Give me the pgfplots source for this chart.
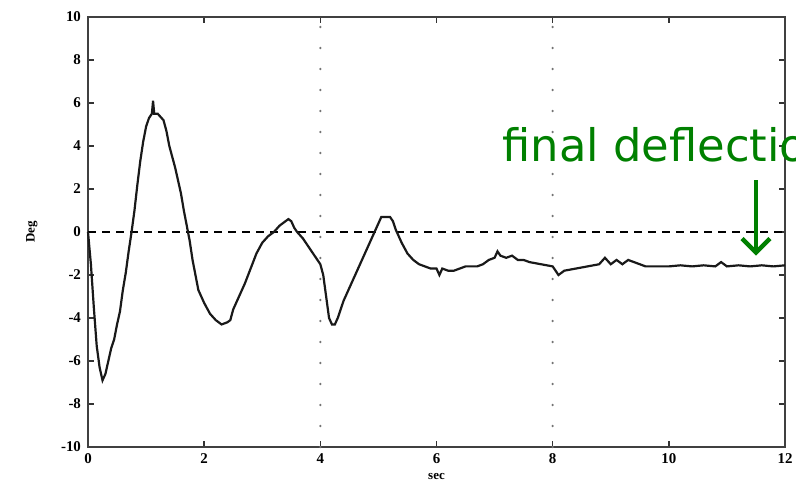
\documentclass[border=0pt]{standalone}
\usepackage{fontspec}
\setmainfont{Liberation Serif}
\newfontfamily\annfont{DejaVu Sans}
\usepackage{pgfplots}
\pgfplotsset{compat=1.18}
\usetikzlibrary{arrows.meta}
\definecolor{anngreen}{RGB}{0,128,0}

\begin{document}
\begin{tikzpicture}
\useasboundingbox (0bp,0bp) rectangle (398bp,245bp);
\begin{axis}[
  at={(44bp,21.5bp)}, anchor=south west,
  scale only axis, width=348.5bp, height=215bp,
  xmin=0, xmax=12, ymin=-10, ymax=10,
  xtick={0,2,...,12}, ytick={-10,-8,...,10},
  tick align=inside, major tick length=3bp,
  tick style={line width=0.8pt, black!80},
  axis line style={line width=1pt, black!75},
  tick label style={font=\fontsize{7.5}{8}\selectfont\bfseries},
  /pgf/number format/assume math mode=true,
  xlabel={sec}, ylabel={Deg},
  label style={font=\fontsize{6.5}{7}\selectfont\bfseries},
  xlabel style={yshift=2bp},
  ylabel style={yshift=5bp},
  clip=false,
]
\addplot[black!55, line width=1.3pt, line cap=round, dash pattern=on 0bp off 10.5bp] coordinates {(4,-10) (4,10)};
\addplot[black!55, line width=1.3pt, line cap=round, dash pattern=on 0bp off 10.5bp] coordinates {(8,-10) (8,10)};
\addplot[black, line width=0.9pt, dash pattern=on 4bp off 3bp] coordinates {(0,0) (12,0)};
\addplot[black!90, line width=1.1pt] coordinates {
(0.00,0.0) (0.05,-1.5) (0.10,-3.5) (0.15,-5.3) (0.20,-6.3) (0.25,-6.9) (0.30,-6.6)
(0.35,-6.0) (0.40,-5.4) (0.45,-5.0) (0.50,-4.3) (0.55,-3.7) (0.60,-2.7) (0.65,-1.9)
(0.70,-0.9) (0.75,0.0) (0.80,1.0) (0.85,2.2) (0.90,3.3) (0.95,4.2) (1.00,4.9)
(1.05,5.3) (1.10,5.5) (1.12,6.1) (1.14,5.5) (1.20,5.5) (1.30,5.2) (1.35,4.7)
(1.40,4.0) (1.45,3.5) (1.50,3.0) (1.55,2.4) (1.60,1.8) (1.65,1.0) (1.70,0.3)
(1.75,-0.4) (1.80,-1.3) (1.85,-2.0) (1.90,-2.7) (2.00,-3.3) (2.10,-3.8) (2.20,-4.1)
(2.30,-4.3) (2.40,-4.2) (2.45,-4.1) (2.50,-3.6) (2.60,-3.0) (2.70,-2.4) (2.80,-1.7)
(2.90,-1.0) (3.00,-0.5) (3.10,-0.2) (3.20,0.0) (3.30,0.3) (3.40,0.5) (3.45,0.6)
(3.50,0.5) (3.55,0.2) (3.60,0.0) (3.70,-0.3) (3.80,-0.7) (3.90,-1.1) (4.00,-1.5)
(4.05,-2.0) (4.10,-3.0) (4.15,-4.0) (4.20,-4.3) (4.25,-4.3) (4.30,-4.0) (4.40,-3.2)
(4.50,-2.6) (4.60,-2.0) (4.70,-1.4) (4.80,-0.8) (4.90,-0.2) (5.00,0.4) (5.05,0.7)
(5.20,0.7) (5.25,0.5) (5.30,0.1) (5.40,-0.5) (5.50,-1.0) (5.60,-1.3) (5.70,-1.5)
(5.80,-1.6) (5.90,-1.7) (6.00,-1.7) (6.05,-2.0) (6.10,-1.7) (6.20,-1.8) (6.30,-1.8)
(6.40,-1.7) (6.50,-1.6) (6.60,-1.6) (6.70,-1.6) (6.80,-1.5) (6.90,-1.3) (7.00,-1.2)
(7.05,-0.9) (7.10,-1.1) (7.20,-1.2) (7.30,-1.1) (7.40,-1.3) (7.50,-1.3) (7.60,-1.4)
(7.80,-1.5) (8.00,-1.6) (8.10,-2.0) (8.20,-1.8) (8.40,-1.7) (8.60,-1.6) (8.80,-1.5)
(8.90,-1.2) (9.00,-1.5) (9.10,-1.3) (9.20,-1.5) (9.30,-1.3) (9.40,-1.4) (9.60,-1.6)
(9.80,-1.6) (10.00,-1.6) (10.20,-1.55) (10.40,-1.6) (10.60,-1.55) (10.80,-1.6)
(10.90,-1.4) (11.00,-1.6) (11.20,-1.55) (11.40,-1.6) (11.60,-1.55) (11.80,-1.6)
(12.00,-1.55)
};
\node[anngreen, anchor=base west, font=\annfont\fontsize{22.5}{26}\selectfont, inner sep=0pt]
  at (axis cs:7.13,3.26) {final deflection};
\draw[anngreen, line width=2.2bp, -{Straight Barb[length=7bp,width=14bp,line width=2.2bp]}]
  (axis cs:11.5,2.4) -- (axis cs:11.5,-1.1);
\end{axis}
\end{tikzpicture}
\end{document}
